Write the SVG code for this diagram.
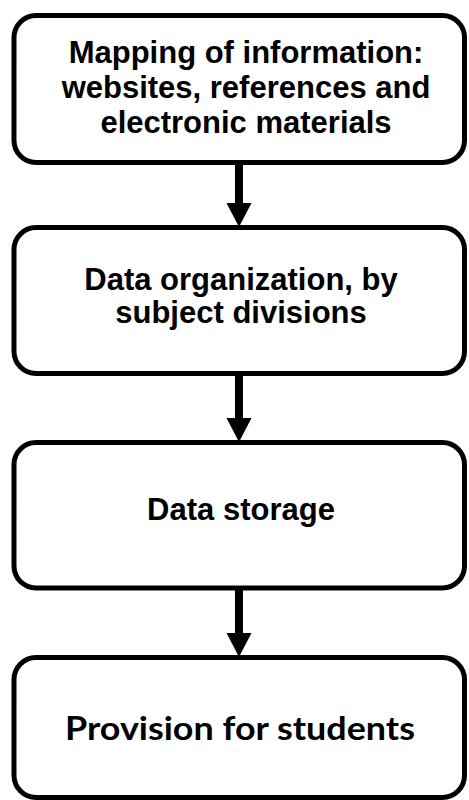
<svg xmlns="http://www.w3.org/2000/svg" width="469" height="800" viewBox="0 0 469 800">
<defs>
<style>
.box{fill:#fff;stroke:#000;stroke-width:5}
.t{font-family:"Liberation Sans",Arial,sans-serif;font-weight:bold;font-size:31px;fill:#000;text-anchor:middle}
.t2{font-family:Lato,"Open Sans",sans-serif;font-weight:bold;font-size:32px;fill:#000;text-anchor:middle}
.line{stroke:#000;stroke-width:8;fill:none}
.head{fill:#000}
</style>
</defs>
<rect width="469" height="800" fill="#fff"/>
<g id="connectors">
<line class="line" x1="239" y1="163" x2="239" y2="206"/>
<polygon class="head" points="226.5,203 251.5,203 239,227"/>
<line class="line" x1="239" y1="374" x2="239" y2="421"/>
<polygon class="head" points="226.5,418 251.5,418 239,442"/>
<line class="line" x1="239" y1="588" x2="239" y2="636"/>
<polygon class="head" points="226.5,633 251.5,633 239,657"/>
</g>
<g id="node1">
<rect class="box" x="14" y="15.5" width="450.5" height="147" rx="22"/>
<text class="t" x="246" y="63">Mapping of information:</text>
<text class="t" x="246" y="98">websites, references and</text>
<text class="t" x="246" y="133">electronic materials</text>
</g>
<g id="node2">
<rect class="box" x="14" y="227.5" width="450.5" height="146" rx="22"/>
<text class="t" x="241" y="290">Data organization, by</text>
<text class="t" x="241" y="323">subject divisions</text>
</g>
<g id="node3">
<rect class="box" x="14" y="442.5" width="450.5" height="145.5" rx="22"/>
<text class="t" x="241" y="520">Data storage</text>
</g>
<g id="node4">
<rect class="box" x="14" y="657.5" width="450.5" height="140" rx="22"/>
<text class="t2" x="240" y="740" textLength="350" lengthAdjust="spacingAndGlyphs">Provision for students</text>
</g>
</svg>
